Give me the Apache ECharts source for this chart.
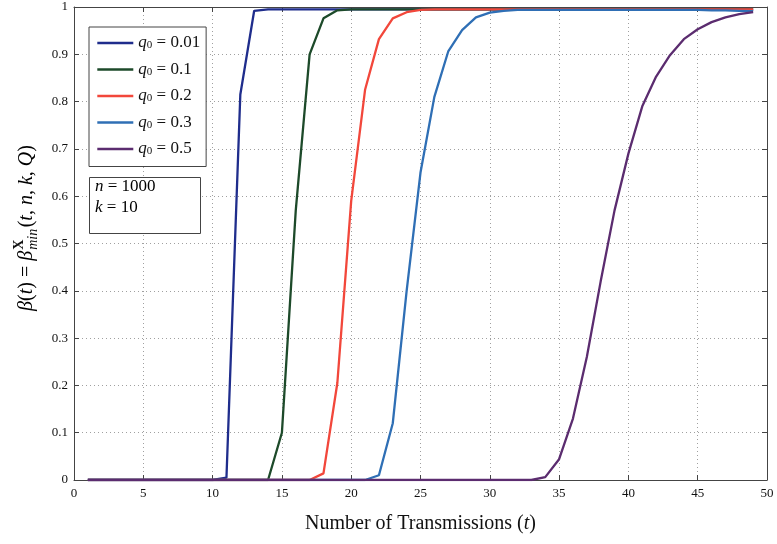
<!DOCTYPE html>
<html>
<head>
<meta charset="utf-8">
<script src="https://cdn.jsdelivr.net/npm/echarts@6/dist/echarts.min.js"></script>
<style>html,body{margin:0;padding:0;background:#fff;}#c{width:777px;height:544px;}</style>
</head>
<body>
<div id="c"></div>
<script>
// ---- data ----
const t = [1,2,3,4,5,6,7,8,9,10,11,12,13,14,15,16,17,18,19,20,21,22,23,24,25,26,27,28,29,30,31,32,33,34,35,36,37,38,39,40,41,42,43,44,45,46,47,48,49];
const qLabels = ['0.01','0.1','0.2','0.3','0.5'];
const beta_q001 = [0,0,0,0,0,0,0,0,0,0,0.005,0.815,0.992,0.995,0.995,0.995,0.995,0.995,0.995,0.995,0.995,0.995,0.995,0.995,0.995,0.995,0.995,0.995,0.995,0.995,0.995,0.995,0.995,0.995,0.995,0.995,0.995,0.995,0.995,0.995,0.995,0.995,0.995,0.995,0.995,0.995,0.995,0.995,0.995];
const beta_q01  = [0,0,0,0,0,0,0,0,0,0,0,0,0,0,0.10,0.57,0.90,0.976,0.993,0.995,0.995,0.995,0.995,0.995,0.995,0.995,0.995,0.995,0.995,0.995,0.995,0.995,0.995,0.995,0.995,0.995,0.995,0.995,0.995,0.995,0.995,0.995,0.995,0.995,0.995,0.995,0.995,0.995,0.995];
const beta_q02  = [0,0,0,0,0,0,0,0,0,0,0,0,0,0,0,0,0,0.014,0.205,0.59,0.825,0.932,0.976,0.989,0.994,0.995,0.995,0.995,0.995,0.995,0.995,0.995,0.995,0.995,0.995,0.995,0.995,0.995,0.995,0.995,0.995,0.995,0.995,0.995,0.995,0.995,0.995,0.995,0.995];
const beta_q03  = [0,0,0,0,0,0,0,0,0,0,0,0,0,0,0,0,0,0,0,0,0,0.01,0.12,0.40,0.65,0.81,0.906,0.951,0.978,0.988,0.992,0.994,0.994,0.994,0.994,0.994,0.994,0.994,0.994,0.994,0.994,0.994,0.994,0.994,0.994,0.993,0.993,0.992,0.991];
const beta_q05  = [0,0,0,0,0,0,0,0,0,0,0,0,0,0,0,0,0,0,0,0,0,0,0,0,0,0,0,0,0,0,0,0,0,0.006,0.044,0.13,0.26,0.42,0.57,0.69,0.79,0.853,0.898,0.932,0.953,0.968,0.978,0.985,0.989];
const xTickLabels = ['0','5','10','15','20','25','30','35','40','45','50'];
const yTickLabels = ['0','0.1','0.2','0.3','0.4','0.5','0.6','0.7','0.8','0.9','1'];

const seriesValues = [beta_q001, beta_q01, beta_q02, beta_q03, beta_q05];
const colors = ['#1f2d8c', '#1d4a2a', '#f2473b', '#2f6fb5', '#5b2c6f'];

const SERIF = '"Liberation Serif", "DejaVu Serif", serif';

// measure helper for the stacked super/subscript in the y label
const mctx = document.createElement('canvas').getContext('2d');
function tw(font, s) { mctx.font = font; return mctx.measureText(s).width; }

const fs = 20;
const fss = 14;
const fMainR = fs + 'px "Liberation Serif"';
const fMainI = 'italic ' + fs + 'px "Liberation Serif"';
const p1 = [['i','β'],['r','('],['i','t'],['r',') = '],['i','β']];
let w1 = 0; p1.forEach(p => { w1 += tw(p[0]==='i'?fMainI:fMainR, p[1]); });
const wX = tw('bold ' + fss + 'px "Liberation Serif"', 'X');
const wMin = tw('italic ' + fss + 'px "Liberation Serif"', 'min');
const p3 = [['r','('],['i','t'],['r',', '],['i','n'],['r',', '],['i','k'],['r',', '],['i','Q'],['r',')']];
let w3 = 0; p3.forEach(p => { w3 += tw(p[0]==='i'?fMainI:fMainR, p[1]); });
const xScript = w1 + 1;
const x3 = xScript + Math.max(wX, wMin) + 1.5;
const total = x3 + w3;
const off = -total / 2;

function richStr(parts) { return parts.map(p => '{' + p[0] + '|' + p[1] + '}').join(''); }
const richMain = {
  r: { fontFamily: SERIF, fontSize: fs, color: '#111' },
  i: { fontFamily: SERIF, fontSize: fs, fontStyle: 'italic', color: '#111' }
};

const tickStyle = { show: true, inside: false, length: -5, lineStyle: { color: '#444' } };

const chart = echarts.init(document.getElementById('c'));
const option = {
  animation: false,
  backgroundColor: '#fff',
  grid: { left: 74, right: 10, top: 7, bottom: 64, containLabel: false },
  legend: {
    orient: 'vertical',
    left: 89, top: 27,
    padding: [7, 6, 9, 7],
    itemWidth: 36, itemHeight: 14, itemGap: 9,
    itemStyle: { opacity: 0 },
    lineStyle: { width: 2.6 },
    backgroundColor: '#fff',
    borderColor: '#444', borderWidth: 1, borderRadius: 0,
    formatter: function (name) {
      const v = name.split('= ')[1];
      return '{q|q}{s|0}{v| = ' + v + '}';
    },
    textStyle: {
      rich: {
        q: { fontFamily: SERIF, fontStyle: 'italic', fontSize: 17, color: '#111', lineHeight: 16 },
        s: { fontFamily: SERIF, fontSize: 11, color: '#111', lineHeight: 16, verticalAlign: 'bottom', padding: [6, 0, 0, 0] },
        v: { fontFamily: SERIF, fontSize: 17, color: '#111', lineHeight: 16 }
      }
    },
    data: qLabels.map(q => 'q0 = ' + q)
  },
  xAxis: [{
    type: 'value', min: 0, max: 50, interval: 5, position: 'bottom',
    axisLine: { onZero: false, lineStyle: { color: '#444', width: 1 } },
    axisTick: tickStyle,
    axisLabel: { margin: 7, fontFamily: SERIF, fontSize: 13, color: '#111',
      formatter: v => xTickLabels[Math.round(v / 5)] },
    splitLine: { show: true, lineStyle: { type: [1, 3], color: '#a0a0a0', width: 1 } },
    name: '{r|Number of Transmissions (}{i|t}{r|)}',
    nameLocation: 'middle', nameGap: 34,
    nameTextStyle: { rich: {
      r: { fontFamily: SERIF, fontSize: 20, color: '#111' },
      i: { fontFamily: SERIF, fontSize: 20, fontStyle: 'italic', color: '#111' }
    } }
  }, {
    type: 'value', min: 0, max: 50, interval: 5, position: 'top',
    axisLine: { onZero: false, lineStyle: { color: '#444', width: 1 } },
    axisTick: tickStyle,
    axisLabel: { show: false }, splitLine: { show: false }
  }],
  yAxis: [{
    type: 'value', min: 0, max: 1, interval: 0.1, position: 'left',
    axisLine: { show: true, onZero: false, lineStyle: { color: '#444', width: 1 } },
    axisTick: tickStyle,
    axisLabel: { margin: 6, fontFamily: SERIF, fontSize: 13, color: '#111',
      formatter: v => yTickLabels[Math.round(v * 10)] },
    splitLine: { show: true, lineStyle: { type: [1, 3], color: '#a0a0a0', width: 1 } }
  }, {
    type: 'value', min: 0, max: 1, interval: 0.1, position: 'right',
    axisLine: { show: true, onZero: false, lineStyle: { color: '#444', width: 1 } },
    axisTick: tickStyle,
    axisLabel: { show: false }, splitLine: { show: false }
  }],
  series: seriesValues.map((vals, i) => ({
    name: 'q0 = ' + qLabels[i],
    type: 'line',
    xAxisIndex: 0, yAxisIndex: 0,
    symbol: 'none',
    color: colors[i],
    lineStyle: { width: 2.3, color: colors[i] },
    data: t.map((tt, j) => [tt, vals[j]]),
    z: 2 + i
  })),
  graphic: [
    {
      type: 'group', x: 27, y: 228, rotation: Math.PI / 2,
      children: [
        { type: 'text', x: off, y: 0, style: { text: richStr(p1), rich: richMain, verticalAlign: 'middle', align: 'left' } },
        { type: 'text', x: off + xScript, y: -8, style: { text: 'X', fontFamily: SERIF, fontWeight: 'bold', fontSize: fss, fill: '#111', verticalAlign: 'middle', align: 'left' } },
        { type: 'text', x: off + xScript, y: 6, style: { text: 'min', fontFamily: SERIF, fontStyle: 'italic', fontSize: fss, fill: '#111', verticalAlign: 'middle', align: 'left' } },
        { type: 'text', x: off + x3, y: 0, style: { text: richStr(p3), rich: richMain, verticalAlign: 'middle', align: 'left' } }
      ]
    },
    {
      type: 'rect', left: 89, top: 177, z: 10,
      shape: { width: 111, height: 56 },
      style: { fill: '#fff', stroke: '#444', lineWidth: 1 }
    },
    {
      type: 'text', left: 95, top: 178, z: 11,
      style: {
        text: '{i|n}{r| = 1000}\n{i|k}{r| = 10}',
        rich: {
          r: { fontFamily: SERIF, fontSize: 17, color: '#111', lineHeight: 21 },
          i: { fontFamily: SERIF, fontSize: 17, fontStyle: 'italic', color: '#111', lineHeight: 21 }
        }
      }
    }
  ]
};
chart.setOption(option);
</script>
</body>
</html>
